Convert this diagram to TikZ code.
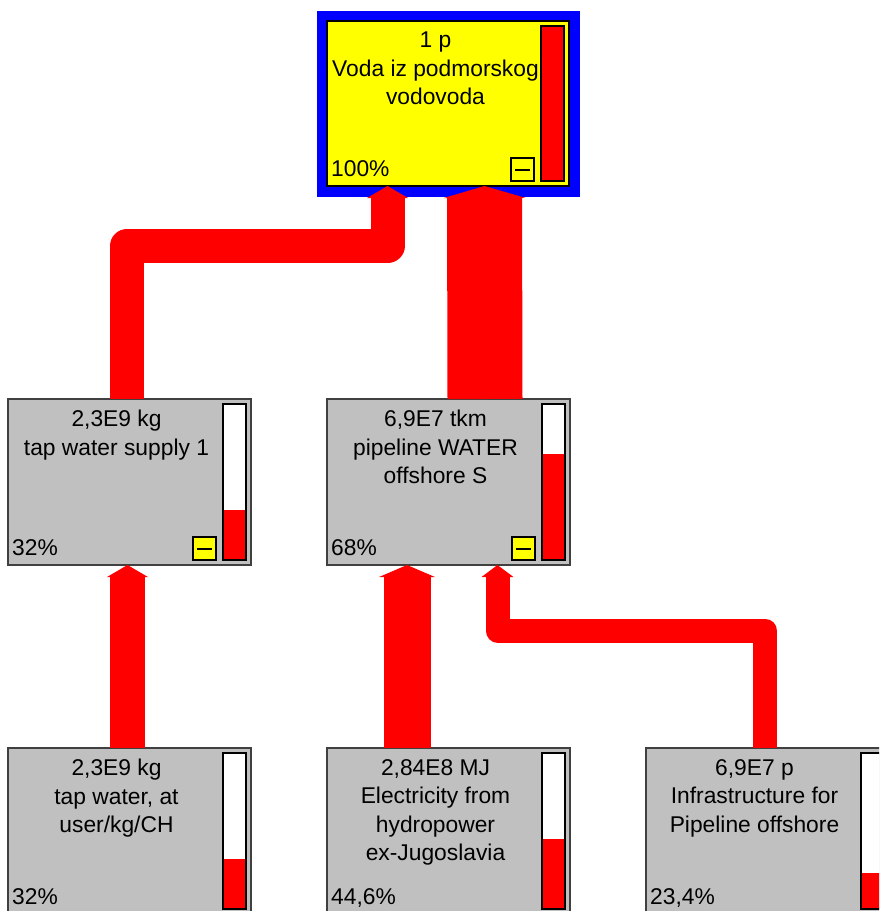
\documentclass[tikz,border=0pt]{standalone}
\usepackage{fontspec}
\setmainfont{Liberation Sans}
\usetikzlibrary{calc,arrows.meta}
\definecolor{boxgray}{RGB}{192,192,192}
\definecolor{edgegray}{RGB}{64,64,64}
\definecolor{pyellow}{RGB}{255,255,0}
\definecolor{pred}{RGB}{255,0,0}
\definecolor{pblue}{RGB}{0,0,255}
\tikzset{
  proc/.style={draw=edgegray, line width=1.5pt, fill=boxgray, minimum width=243pt,
    minimum height=166pt, anchor=north west, inner sep=0pt, outer sep=0pt},
  mainproc/.style={proc, fill=pyellow, draw=black, minimum width=242pt, minimum height=165pt,
    preaction={draw=pblue, line width=21pt}},
  lbl/.style={font=\fontsize{22.8}{28.5}\selectfont, align=center, anchor=north, inner sep=0pt, text=black},
  pct/.style={font=\fontsize{22.8}{27}\selectfont, anchor=base west, inner sep=0pt, text=black},
  gaugeframe/.style={draw=black, line width=1.5pt},
  iconbox/.style={draw=black, line width=1.2pt, fill=pyellow},
  flow/.style={draw=pred, line join=round},
}
% gauge: node, red height
\newcommand{\procgauge}[2]{%
  \fill[white] ($(#1.north east)+(-28,5)$) rectangle ($(#1.south east)+(-5,-5)$);
  \fill[pred] ($(#1.south east)+(-28,-5)$) rectangle ($(#1.south east)+(-5,{-5-#2})$);
  \draw[gaugeframe] ($(#1.north east)+(-28,5)$) rectangle ($(#1.south east)+(-5,-5)$);
}
\newcommand{\procicon}[1]{%
  \draw[iconbox] ($(#1.south east)+(-58,-5)$) rectangle ($(#1.south east)+(-35,-28)$);
  \draw[black, line width=2pt] ($(#1.south east)+(-54,-16.5)$) -- ($(#1.south east)+(-39,-16.5)$);
}
\begin{document}
\begin{tikzpicture}[x=1pt, y=-1pt]
\useasboundingbox (0,0) rectangle (879,911);
\clip (0,0) rectangle (879,911);

% boxes
\node[mainproc] (top) at (327,21) {};
\node[proc] (mA) at (8,399) {};
\node[proc] (mB) at (327,399) {};
\node[proc] (bA) at (8,748) {};
\node[proc] (bB) at (327,748) {};
\node[proc] (bC) at (646,748) {};

% gauges
\procgauge{top}{155}
\procgauge{mA}{49.9}
\procgauge{mB}{106.1}
\procgauge{bA}{49.9}
\procgauge{bB}{69.6}
\procgauge{bC}{36.5}

% collapse icons
\procicon{top}
\procicon{mA}
\procicon{mB}

% labels
\node[lbl] (topT) at ($(top.north west)+(108.5,11)$) {1 p\\Voda iz podmorskog\\vodovoda};
\node[lbl] (mAT) at ($(mA.north west)+(108.5,11)$) {2,3E9 kg\\tap water supply 1};
\node[lbl] (mBT) at ($(mB.north west)+(108.5,11)$) {6,9E7 tkm\\pipeline WATER\\offshore S};
\node[lbl] (bAT) at ($(bA.north west)+(108.5,11)$) {2,3E9 kg\\tap water, at\\user/kg/CH};
\node[lbl] (bBT) at ($(bB.north west)+(108.5,11)$) {2,84E8 MJ\\Electricity from\\hydropower\\ex-Jugoslavia};
\node[lbl] (bCT) at ($(bC.north west)+(108.5,11)$) {6,9E7 p\\Infrastructure for\\Pipeline offshore};

% percentages
\node[pct] (topP) at ($(top.south west)+(4,-10)$) {100\%};
\node[pct] (mAP) at ($(mA.south west)+(4,-10)$) {32\%};
\node[pct] (mBP) at ($(mB.south west)+(4,-10)$) {68\%};
\node[pct] (bAP) at ($(bA.south west)+(4,-10)$) {32\%};
\node[pct] (bBP) at ($(bB.south west)+(4,-10)$) {44,6\%};
\node[pct] (bCP) at ($(bC.south west)+(4,-10)$) {23,4\%};

% flows
\draw[flow, line width=34pt, -{Triangle[length=12pt,width=41pt,line width=0pt]}]
  ($(mA.north)+(-2.5,0)$) |- ($(top.south)+(-60.5,60)$) -- ($(top.south)+(-60.5,0)$);
\draw[flow, line width=75pt, -{Triangle[length=12pt,width=82pt,line width=0pt]}]
  ($(mB.north)+(36.5,0)$) -- ($(top.south)+(36.5,0)$);
\draw[flow, line width=35pt, -{Triangle[length=12pt,width=41pt,line width=0pt]}]
  ($(bA.north)+(-2,0)$) -- ($(mA.south)+(-2,0)$);
\draw[flow, line width=47pt, -{Triangle[length=12pt,width=56pt,line width=0pt]}]
  ($(bB.north)+(-41.5,0)$) -- ($(mB.south)+(-41.5,0)$);
\draw[flow, line width=24pt, -{Triangle[length=12pt,width=32pt,line width=0pt]}]
  ($(bC.north)+(-2.5,0)$) |- ($(mB.south)+(49,65.5)$) -- ($(mB.south)+(49,0)$);
\end{tikzpicture}
\end{document}
